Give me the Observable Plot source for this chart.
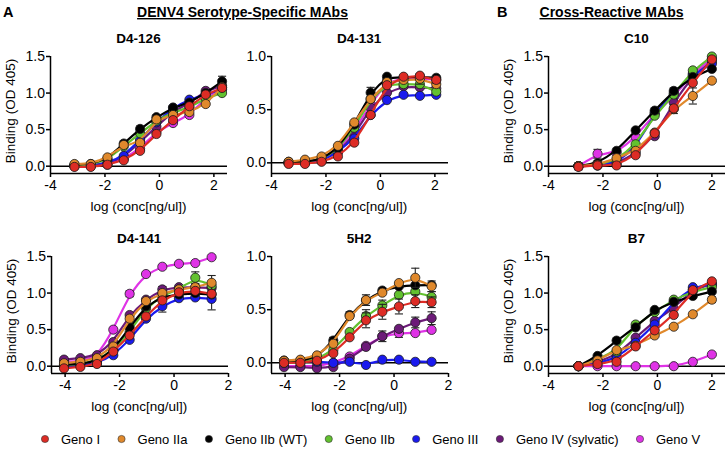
<!DOCTYPE html>
<html>
<head>
<meta charset="utf-8">
<script src="https://cdn.jsdelivr.net/npm/d3@7"></script>
<script src="https://cdn.jsdelivr.net/npm/@observablehq/plot@0.6"></script>
<style>
  body { margin: 0; background: #fff; }
  #root { position: relative; width: 727px; height: 449px; overflow: hidden; background: #fff; }
  #root svg { position: absolute; display: block; max-width: none; }
</style>
</head>
<body>
<div id="root"></div>
<script>
// ---------- data ----------
const genotypes = ["Geno I", "Geno IIa", "Geno IIb (WT)", "Geno IIb", "Geno III", "Geno IV (sylvatic)", "Geno V"];
const genoColors = ["#dd2c25", "#e0892c", "#000000", "#62c12f", "#1a1aee", "#6c1a78", "#df33e6"];

// D4-126 (log conc, ng/ul)
const xD4_126 = [-3.12, -2.52, -1.91, -1.31, -0.71, -0.11, 0.50, 1.10, 1.70, 2.30];
const yD4_126 = [
  [-0.01, -0.01, 0.02, 0.08, 0.21, 0.44, 0.63, 0.82, 0.98, 1.07],
  [0.03, 0.03, 0.12, 0.29, 0.32, 0.64, 0.70, 0.74, 0.85, 1.08],
  [0.02, 0.03, 0.10, 0.31, 0.51, 0.67, 0.80, 0.87, 1.00, 1.16],
  [0.01, 0.02, 0.09, 0.27, 0.45, 0.62, 0.74, 0.80, 0.93, 1.00],
  [0.00, 0.01, 0.04, 0.14, 0.36, 0.60, 0.80, 0.91, 0.98, 1.05],
  [0.00, 0.01, 0.04, 0.12, 0.33, 0.54, 0.75, 0.86, 1.03, 1.10],
  [0.00, 0.00, 0.02, 0.10, 0.24, 0.47, 0.59, 0.70, 0.93, 1.08]
];
const errD4_126 = [[2, 9, 0.07], [2, 4, 0.04], [2, 5, 0.03], [1, 3, 0.03], [2, 6, 0.03]];

// D4-131
const xD4_131 = [-3.37, -2.77, -2.16, -1.56, -0.96, -0.36, 0.24, 0.85, 1.45, 2.05];
const yD4_131 = [
  [-0.01, -0.01, 0.01, 0.06, 0.19, 0.45, 0.73, 0.81, 0.82, 0.78],
  [0.01, 0.03, 0.06, 0.16, 0.38, 0.60, 0.76, 0.78, 0.79, 0.74],
  [0.01, 0.01, 0.03, 0.14, 0.36, 0.66, 0.81, 0.80, 0.81, 0.80],
  [0.00, 0.01, 0.03, 0.13, 0.33, 0.60, 0.74, 0.74, 0.74, 0.67],
  [0.00, 0.00, 0.02, 0.10, 0.23, 0.45, 0.59, 0.64, 0.63, 0.64],
  [0.00, 0.00, 0.02, 0.10, 0.26, 0.52, 0.66, 0.72, 0.71, 0.70],
  [0.00, 0.01, 0.03, 0.12, 0.30, 0.55, 0.77, 0.79, 0.80, 0.78]
];
const errD4_131 = [[2, 5, 0.05], [1, 8, 0.05], [2, 8, 0.03], [0, 9, 0.03]];

// C10
const xC10 = [-2.9, -2.2, -1.5, -0.8, -0.1, 0.6, 1.3, 2.0];
const yC10 = [
  [-0.01, 0.01, 0.01, 0.15, 0.45, 0.79, 1.14, 1.46],
  [0.00, 0.02, 0.11, 0.21, 0.46, 0.78, 0.96, 1.17],
  [0.00, 0.04, 0.21, 0.49, 0.76, 1.03, 1.22, 1.33],
  [0.00, 0.02, 0.08, 0.30, 0.69, 0.98, 1.31, 1.50],
  [0.00, 0.01, 0.05, 0.25, 0.73, 1.00, 1.25, 1.40],
  [0.00, 0.01, 0.03, 0.18, 0.41, 0.87, 1.24, 1.43],
  [0.00, 0.17, 0.18, 0.40, 0.72, 0.95, 1.27, 1.47]
];
const errC10 = [[2, 0, 0.05], [6, 1, 0.06], [1, 6, 0.11], [2, 5, 0.04], [5, 5, 0.05], [1, 5, 0.06]];

// D4-141
const xD4_141 = [-4.04, -3.44, -2.83, -2.23, -1.63, -1.03, -0.43, 0.18, 0.78, 1.38];
const yD4_141 = [
  [-0.03, -0.01, 0.03, 0.20, 0.42, 0.68, 0.90, 1.01, 1.03, 0.99],
  [0.04, 0.06, 0.11, 0.27, 0.65, 0.89, 1.00, 1.05, 1.08, 1.14],
  [0.02, 0.03, 0.07, 0.22, 0.53, 0.82, 0.95, 0.98, 1.00, 0.98],
  [0.01, 0.03, 0.08, 0.22, 0.47, 0.79, 0.97, 1.05, 1.21, 1.10],
  [0.00, 0.01, 0.04, 0.15, 0.36, 0.65, 0.82, 0.93, 0.94, 0.92],
  [0.09, 0.11, 0.15, 0.33, 0.70, 0.91, 1.05, 1.08, 1.08, 1.07],
  [0.06, 0.07, 0.12, 0.50, 0.99, 1.26, 1.36, 1.40, 1.41, 1.49]
];
const errD4_141 = [[3, 8, 0.08], [1, 9, 0.10], [4, 9, 0.15], [4, 6, 0.08], [5, 6, 0.04], [2, 5, 0.05], [6, 4, 0.04]];

// 5H2
const x5H2 = [-4.04, -3.44, -2.83, -2.23, -1.63, -1.03, -0.43, 0.18, 0.78, 1.38];
const y5H2 = [
  [0.00, 0.00, 0.02, 0.09, 0.24, 0.40, 0.48, 0.53, 0.58, 0.57],
  [0.02, 0.03, 0.07, 0.18, 0.44, 0.59, 0.66, 0.75, 0.80, 0.72],
  [0.02, 0.02, 0.05, 0.21, 0.45, 0.59, 0.68, 0.72, 0.73, 0.73],
  [0.00, 0.01, 0.03, 0.12, 0.29, 0.44, 0.54, 0.64, 0.67, 0.62],
  [0.02, 0.02, 0.01, 0.00, 0.01, -0.02, 0.03, 0.03, 0.01, 0.01],
  [-0.04, -0.04, -0.05, -0.04, 0.04, 0.15, 0.25, 0.32, 0.38, 0.42],
  [-0.03, -0.03, -0.03, 0.00, 0.06, 0.16, 0.25, 0.28, 0.28, 0.31]
];
const err5H2 = [[1, 8, 0.09], [1, 9, 0.05], [3, 5, 0.06], [3, 6, 0.05], [3, 9, 0.05], [0, 5, 0.07], [0, 6, 0.07],
  [0, 7, 0.07], [0, 8, 0.06], [0, 9, 0.05], [5, 8, 0.05], [5, 9, 0.06], [5, 6, 0.05], [6, 7, 0.04],
  [2, 4, 0.03], [1, 5, 0.05], [2, 3, 0.03]];

// B7
const xB7 = [-2.9, -2.2, -1.5, -0.8, -0.1, 0.6, 1.3, 2.0];
const yB7 = [
  [0.00, 0.03, 0.06, 0.27, 0.49, 0.70, 1.04, 1.16],
  [0.00, 0.08, 0.22, 0.28, 0.42, 0.54, 0.71, 0.91],
  [0.00, 0.14, 0.35, 0.53, 0.77, 0.88, 0.96, 1.02],
  [0.00, 0.10, 0.20, 0.57, 0.74, 0.91, 1.02, 1.08],
  [0.00, 0.04, 0.11, 0.32, 0.57, 0.88, 1.08, 1.12],
  [0.00, 0.06, 0.15, 0.39, 0.62, 0.79, 1.05, 1.12],
  [0.00, 0.00, 0.00, 0.00, 0.00, 0.00, 0.06, 0.16]
];
const errB7 = [[1, 7, 0.04], [2, 6, 0.03]];

const xTicks = [-4, -2, 0, 2];
const yTicks15 = [0, 0.5, 1, 1.5];
const yTicks10 = [0, 0.5, 1];

// ---------- layout ----------
const FONT = '"Liberation Sans", Arial, Helvetica, sans-serif';
const ML = 48, MR = 6, MT = 8, MB = 26, PW = 177, PH = 117;

const panels = [
  {title: "D4-126", x: xD4_126, y: yD4_126, err: errD4_126, xDomain: [-4, 2.5], yDomain: [-0.1, 1.5], yTicks: yTicks15, left: 50, top: 56, ylabel: true},
  {title: "D4-131", x: xD4_131, y: yD4_131, err: errD4_131, xDomain: [-4, 2.5], yDomain: [-0.1, 1.0], yTicks: yTicks10, left: 270.7, top: 56, ylabel: false},
  {title: "C10", x: xC10, y: yC10, err: errC10, xDomain: [-4, 2.5], yDomain: [-0.1, 1.5], yTicks: yTicks15, left: 548, top: 56, ylabel: true},
  {title: "D4-141", x: xD4_141, y: yD4_141, err: errD4_141, xDomain: [-4.5, 2], yDomain: [-0.1, 1.5], yTicks: yTicks15, left: 50.7, top: 256, ylabel: true},
  {title: "5H2", x: x5H2, y: y5H2, err: err5H2, xDomain: [-4.5, 2], yDomain: [-0.1, 1.0], yTicks: yTicks10, left: 270.7, top: 256, ylabel: false},
  {title: "B7", x: xB7, y: yB7, err: errB7, xDomain: [-4, 2.5], yDomain: [-0.1, 1.5], yTicks: yTicks15, left: 548, top: 256, ylabel: true}
];

const root = document.getElementById("root");
const CAP = 0.15;

function drawPanel(p) {
  const rows = [];
  p.y.forEach((ys, gi) => ys.forEach((v, i) => rows.push({g: gi, x: p.x[i], y: v})));
  const errs = p.err.map(([gi, i, e]) => ({g: gi, x: p.x[i], y: p.y[gi][i], e}));
  const marks = [Plot.ruleY([0], {stroke: "#000", strokeWidth: 1.5})];
  for (let gi = genotypes.length - 1; gi >= 0; gi--) {
    const r = rows.filter(d => d.g === gi);
    const e = errs.filter(d => d.g === gi);
    marks.push(Plot.line(r, {x: "x", y: "y", stroke: genoColors[gi], strokeWidth: 2.2, curve: "basis"}));
    marks.push(Plot.ruleX(e, {x: "x", y1: d => d.y - d.e, y2: d => d.y + d.e, stroke: "#222", strokeWidth: 1.1}));
    marks.push(Plot.link(e, {x1: d => d.x - CAP, x2: d => d.x + CAP, y1: d => d.y + d.e, y2: d => d.y + d.e, stroke: "#222", strokeWidth: 1.1}));
    marks.push(Plot.link(e, {x1: d => d.x - CAP, x2: d => d.x + CAP, y1: d => d.y - d.e, y2: d => d.y - d.e, stroke: "#222", strokeWidth: 1.1}));
    marks.push(Plot.dot(r, {x: "x", y: "y", r: 4.6, fill: genoColors[gi], stroke: "#1a1a1a", strokeWidth: 0.8}));
  }
  marks.push(Plot.ruleX([p.xDomain[0]], {stroke: "#000", strokeWidth: 1.5}));
  marks.push(Plot.ruleY([p.yDomain[0]], {stroke: "#000", strokeWidth: 1.5}));
  const svg = Plot.plot({
    width: ML + PW + MR,
    height: MT + PH + MB,
    marginLeft: ML, marginRight: MR, marginTop: MT, marginBottom: MB,
    style: {background: "transparent", fontFamily: FONT, fontSize: "14px", color: "#000", overflow: "visible"},
    x: {domain: p.xDomain, ticks: xTicks, tickSize: 4, tickPadding: 3, tickFormat: d => String(d), label: null},
    y: {domain: p.yDomain, ticks: p.yTicks, tickSize: 4, tickPadding: 1.5, tickFormat: d => d.toFixed(1), label: null},
    marks
  });
  svg.querySelectorAll('g[aria-label*="tick"]').forEach(g => g.setAttribute("stroke-width", "1.5"));
  svg.style.left = (p.left - ML) + "px";
  svg.style.top = (p.top - MT) + "px";
  root.appendChild(svg);
}
panels.forEach(drawPanel);

// ---------- text overlay ----------
const ov = d3.select(root).append("svg")
  .attr("width", 727).attr("height", 449)
  .style("left", "0px").style("top", "0px")
  .style("font-family", FONT);

function txt(x, y, s, opts = {}) {
  return ov.append("text").attr("x", x).attr("y", y)
    .attr("text-anchor", opts.anchor || "start")
    .attr("font-size", opts.size || 13.5)
    .attr("font-weight", opts.bold ? "bold" : null)
    .style("text-decoration", opts.underline ? "underline" : null)
    .attr("fill", "#000")
    .text(s);
}

txt(3, 17, "A", {bold: true, size: 14.5});
txt(242.5, 17, "DENV4 Serotype-Specific MAbs", {bold: true, size: 14, anchor: "middle", underline: true});
txt(497, 17, "B", {bold: true, size: 14.5});
txt(611.5, 17, "Cross-Reactive MAbs", {bold: true, size: 14, anchor: "middle", underline: true});

panels.forEach(p => {
  const cx = p.left + PW / 2;
  txt(cx, p.top - 13.5, p.title, {bold: true, size: 13.5, anchor: "middle"});
  txt(cx, p.top + 155, "log (conc[ng/ul])", {size: 13.5, anchor: "middle"});
  if (p.ylabel) {
    const lx = p.left - 35, ly = p.top + 55;
    ov.append("text")
      .attr("transform", `translate(${lx},${ly}) rotate(-90)`)
      .attr("text-anchor", "middle").attr("font-size", 13.5).attr("fill", "#000")
      .text("Binding (OD 405)");
  }
});

// legend
let lx = 45;
const ly = 439;
genotypes.forEach((g, i) => {
  ov.append("circle").attr("cx", lx).attr("cy", ly).attr("r", 3.6)
    .attr("fill", genoColors[i]).attr("stroke", "#333").attr("stroke-width", 0.6);
  const t = txt(lx + 16, ly + 4.7, g, {size: 13});
  const w = t.node().getComputedTextLength();
  lx = lx + 16 + w + 21.5;
});
</script>
</body>
</html>
